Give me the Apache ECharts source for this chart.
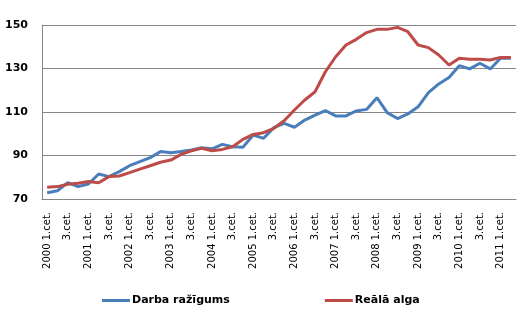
<!DOCTYPE html>
<html><head><meta charset="utf-8">
<script src="https://cdn.jsdelivr.net/npm/echarts@6/dist/echarts.min.js"></script>
<style>html,body{margin:0;padding:0;background:#fff}#c{width:526px;height:311px}</style>
</head><body><div id="c"></div>
<script>
const years = [2000,2001,2002,2003,2004,2005,2006,2007,2008,2009,2010,2011];
const categories = [];
years.forEach(y => { for (let q = 1; q <= 4; q++) { if (y === 2011 && q > 2) break; categories.push((q === 1 ? y + ' ' : '') + q + '.cet.'); } });
const productivity = [72.9,73.8,77.5,75.7,76.9,81.5,80.3,82.6,85.3,87.2,89.0,91.8,91.3,91.8,92.5,93.6,93.1,95.1,94.0,93.8,99.4,97.9,102.8,104.8,103.0,106.3,108.6,110.6,108.2,108.2,110.5,111.2,116.6,109.7,107.0,109.1,112.4,118.9,122.9,125.9,131.3,129.8,132.4,129.8,134.7,134.7];
const realWage = [75.4,75.7,76.8,77.2,78.0,77.5,80.3,80.6,82.1,83.7,85.3,86.9,87.9,90.5,92.2,93.3,92.2,92.8,94.0,97.4,99.7,100.5,102.5,106.0,110.9,115.5,119.3,128.5,135.4,140.8,143.4,146.5,148.0,148.0,148.9,146.9,140.8,139.6,136.2,131.6,134.7,134.2,134.2,133.9,135.1,135.1];
const yTicks = [70, 90, 110, 130, 150];

const chart = echarts.init(document.getElementById('c'));
chart.setOption({
  animation: false,
  grid: { left: 42, right: 10, top: 25, bottom: 112 },
  legend: {
    top: 290, left: 97, itemGap: 95, itemWidth: 28, itemHeight: 3,
    textStyle: { fontFamily: 'DejaVu Sans', fontSize: 11, fontWeight: 'bold', color: '#000', padding: [0, 0, 0, -3] },
    data: [{ name: 'Darba ražīgums', icon: 'rect' }, { name: 'Reālā alga', icon: 'rect' }]
  },
  xAxis: {
    type: 'category', data: categories, boundaryGap: true,
    axisLine: { lineStyle: { color: '#868686' } },
    axisTick: { show: false },
    axisLabel: { interval: 1, rotate: 90, fontFamily: 'DejaVu Sans', fontSize: 10, color: '#000', margin: 13 }
  },
  yAxis: {
    type: 'value', min: yTicks[0], max: yTicks[yTicks.length - 1], interval: 20,
    axisLine: { show: true, lineStyle: { color: '#868686' } },
    axisTick: { show: false },
    splitLine: { lineStyle: { color: '#868686' } },
    axisLabel: { fontFamily: 'DejaVu Sans', fontSize: 11, fontWeight: 'bold', color: '#000', margin: 14 }
  },
  series: [
    { name: 'Darba ražīgums', type: 'line', data: productivity, symbol: 'none', itemStyle: { color: '#4A7EBB' }, lineStyle: { color: '#4A7EBB', width: 3 } },
    { name: 'Reālā alga', type: 'line', data: realWage, symbol: 'none', itemStyle: { color: '#BE4B48' }, lineStyle: { color: '#BE4B48', width: 3 } }
  ]
});
</script></body></html>
